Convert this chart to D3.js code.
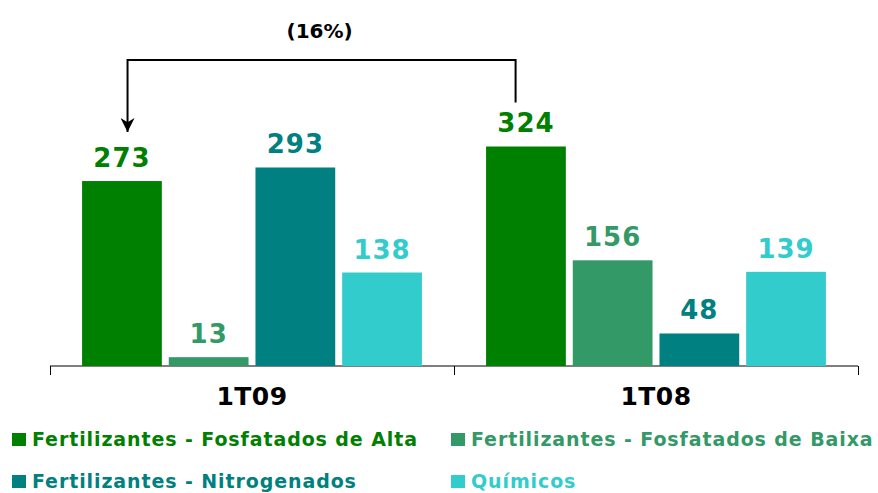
<!DOCTYPE html>
<html>
<head>
<meta charset="utf-8">
<script src="https://cdn.jsdelivr.net/npm/d3@7"></script>
<style>
  body { margin: 0; background: #fff; }
  svg { display: block; }
  .bold { font-family: "DejaVu Sans", Verdana, sans-serif; font-weight: bold; }
</style>
</head>
<body>
<svg width="878" height="493"></svg>
<script>
// **** Data ****
var periods = ['1T09', '1T08'];
var seriesNames = [
    'Fertilizantes - Fosfatados de Alta',
    'Fertilizantes - Fosfatados de Baixa',
    'Fertilizantes - Nitrogenados',
    'Químicos'
];
var seriesColors = ['#008000', '#339966', '#008080', '#33cccc'];
var values1T09 = [273, 13, 293, 138];
var values1T08 = [324, 156, 48, 139];
var changeLabel = '(16%)';

var valuesByPeriod = { '1T09': values1T09, '1T08': values1T08 };

var svg = d3.select('svg');

// **** Scales ****
var xGroup = d3.scaleBand()
    .domain(periods)
    .range([50, 858]);

var xBar = d3.scaleBand()
    .domain(seriesNames)
    .range([0, xGroup.bandwidth()])
    .paddingInner(0.08)
    .paddingOuter(0.37);

var yScale = d3.scaleLinear()
    .domain([0, 400])
    .range([366, 95]);

// **** Axis ****
var xAxis = svg.append('g')
    .attr('transform', 'translate(0,366)')
    .call(d3.axisBottom(xGroup).tickSize(0).tickFormat(''));
xAxis.select('.domain').remove();

xAxis.append('line')
    .attr('x1', 50).attr('x2', 858)
    .attr('y1', 0).attr('y2', 0)
    .attr('stroke', '#000').attr('stroke-width', 1);

// tick separators at group boundaries
var boundaries = [xGroup.range()[0]].concat(periods.map(function(p) { return xGroup(p) + xGroup.bandwidth(); }));
xAxis.selectAll('.sep')
    .data(boundaries)
    .enter()
    .append('line')
    .attr('class', 'sep')
    .attr('x1', function(d) { return Math.round(d) + 0.5; })
    .attr('x2', function(d) { return Math.round(d) + 0.5; })
    .attr('y1', 0).attr('y2', 9)
    .attr('stroke', '#000');

svg.selectAll('.cat')
    .data(periods)
    .enter()
    .append('text')
    .attr('class', 'cat bold')
    .attr('x', function(d) { return xGroup(d) + xGroup.bandwidth() / 2; })
    .attr('y', 405)
    .attr('text-anchor', 'middle')
    .style('font-size', '25px')
    .style('letter-spacing', '0.5px')
    .text(function(d) { return d; });

// **** Bars ****
var groups = svg.selectAll('.grp')
    .data(periods)
    .enter()
    .append('g')
    .attr('class', 'grp')
    .attr('transform', function(d) { return 'translate(' + xGroup(d) + ',0)'; });

function rows(p) {
    return seriesNames.map(function(s, i) { return { name: s, value: valuesByPeriod[p][i], color: seriesColors[i] }; });
}

groups.selectAll('rect')
    .data(rows)
    .enter()
    .append('rect')
    .attr('x', function(d) { return xBar(d.name); })
    .attr('y', function(d) { return yScale(d.value); })
    .attr('width', xBar.bandwidth())
    .attr('height', function(d) { return yScale(0) - yScale(d.value); })
    .attr('fill', function(d) { return d.color; });

groups.selectAll('.val')
    .data(rows)
    .enter()
    .append('text')
    .attr('class', 'val bold')
    .attr('x', function(d) { return xBar(d.name) + xBar.bandwidth() / 2; })
    .attr('y', function(d) { return yScale(d.value) - 14; })
    .attr('text-anchor', 'middle')
    .attr('fill', function(d) { return d.color; })
    .style('font-size', '26px')
    .style('letter-spacing', '1px')
    .text(function(d) { return d.value; });

// **** Change annotation ****
var leftX = xGroup('1T09') + xBar(seriesNames[0]) + xBar.bandwidth() * 0.57;
var rightX = xGroup('1T08') + xBar(seriesNames[0]) + xBar.bandwidth() * 0.37;
var topY = 60;

svg.append('defs').append('marker')
    .attr('id', 'arrow')
    .attr('viewBox', '0 0 10 10')
    .attr('refX', 10).attr('refY', 5)
    .attr('markerWidth', 7).attr('markerHeight', 7)
    .attr('orient', 'auto')
    .append('path')
    .attr('d', 'M0,0 L10,5 L0,10 L3,5 Z')
    .attr('fill', '#000');

svg.append('path')
    .attr('d', d3.line()([[rightX, yScale(valuesByPeriod['1T08'][0]) - 44], [rightX, topY], [leftX, topY], [leftX, 132]]))
    .attr('fill', 'none')
    .attr('stroke', '#000')
    .attr('stroke-width', 2)
    .attr('marker-end', 'url(#arrow)');

svg.append('text')
    .attr('class', 'bold')
    .attr('x', (leftX + rightX) / 2 - 2)
    .attr('y', 38)
    .attr('text-anchor', 'middle')
    .style('font-size', '20px')
    .text(changeLabel);

// **** Legend ****
var legendPos = [[12, 446], [451, 446], [12, 488], [451, 488]];
var legend = svg.selectAll('.leg')
    .data(seriesNames)
    .enter()
    .append('g')
    .attr('class', 'leg')
    .attr('transform', function(d, i) { return 'translate(' + legendPos[i][0] + ',' + legendPos[i][1] + ')'; });

legend.append('rect')
    .attr('y', -13)
    .attr('width', 14).attr('height', 13)
    .attr('fill', function(d, i) { return seriesColors[i]; });

legend.append('text')
    .attr('class', 'bold')
    .attr('x', 20)
    .attr('y', 0)
    .attr('fill', function(d, i) { return seriesColors[i]; })
    .style('font-size', '19px')
    .style('letter-spacing', '0.9px')
    .text(function(d) { return d; });
</script>
</body>
</html>
